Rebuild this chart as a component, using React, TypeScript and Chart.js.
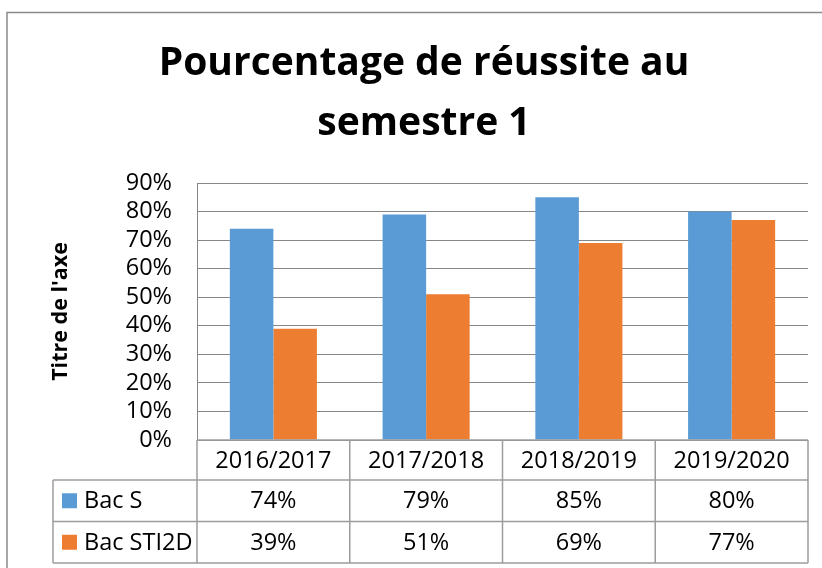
import React, { useEffect, useRef } from "react";
import { Chart, registerables } from "chart.js";

Chart.register(...registerables);

const categories = ["2016/2017", "2017/2018", "2018/2019", "2019/2020"];
const bacS = [74, 79, 85, 80];
const bacSTI2D = [39, 51, 69, 77];
const seriesNames = ["Bac S", "Bac STI2D"];
const seriesColors = ["#5B9BD5", "#ED7D31"];
const titleLines = ["Pourcentage de réussite au", "semestre 1"];
const axisTitle = "Titre de l'axe";
const yMin = 0;
const yMax = 90;
const yStep = 10;

const FONT = "'Open Sans', 'Liberation Sans', sans-serif";
const GRID = "#878787";
const TABLE_LINE = "#9c9c9c";

const frameAndTablePlugin = {
  id: "frameAndTable",
  beforeDraw(chart: any) {
    const { ctx, width, height } = chart;
    ctx.save();
    ctx.fillStyle = "#ffffff";
    ctx.fillRect(0, 0, width, height);
    ctx.strokeStyle = "#8a8a8a";
    ctx.lineWidth = 1.5;
    ctx.beginPath();
    ctx.moveTo(7, height + 2);
    ctx.lineTo(7, 12.5);
    ctx.lineTo(width + 2, 12.5);
    ctx.stroke();
    ctx.restore();
  },
  afterDraw(chart: any) {
    const { ctx, chartArea, scales } = chart;
    const xs = scales.x;
    const n = categories.length;
    const cw = chartArea.width / n;
    const top = chartArea.bottom;
    const rowH = [40, 41.5, 41.5];
    const y1 = top + rowH[0];
    const y2 = y1 + rowH[1];
    const y3 = y2 + rowH[2];
    const legendLeft = chartArea.left - 144;
    const line = (ax: number, ay: number, bx: number, by: number) => {
      ctx.beginPath();
      ctx.moveTo(ax, ay);
      ctx.lineTo(bx, by);
      ctx.stroke();
    };
    ctx.save();
    ctx.strokeStyle = TABLE_LINE;
    ctx.lineWidth = 1.5;
    line(chartArea.left, top, chartArea.right, top);
    [y1, y2, y3].forEach((yy) => line(legendLeft, yy, chartArea.right, yy));
    for (let i = 0; i <= n; i++) {
      const xx = chartArea.left + i * cw;
      line(xx, top, xx, y3);
    }
    line(legendLeft, y1, legendLeft, y3);

    ctx.fillStyle = "#000";
    ctx.font = `23.5px ${FONT}`;
    ctx.textAlign = "center";
    ctx.textBaseline = "middle";
    categories.forEach((c, i) => {
      ctx.fillText(c, xs.getPixelForValue(i), top + rowH[0] / 2 + 1);
    });
    const rowsData = [bacS, bacSTI2D];
    const rowCenters = [y1 + rowH[1] / 2, y2 + rowH[2] / 2];
    rowsData.forEach((vals, r) => {
      const cy = rowCenters[r];
      ctx.fillStyle = seriesColors[r];
      ctx.fillRect(legendLeft + 9, cy - 7.5, 15, 15);
      ctx.fillStyle = "#000";
      ctx.textAlign = "left";
      ctx.fillText(seriesNames[r], legendLeft + 31, cy + 1);
      ctx.textAlign = "center";
      vals.forEach((v, i) => {
        ctx.fillText(`${v}%`, xs.getPixelForValue(i), cy + 1);
      });
    });
    ctx.restore();
  },
};

export default function App() {
  const ref = useRef<HTMLCanvasElement | null>(null);
  useEffect(() => {
    if (!ref.current) return;
    const chart = new Chart(ref.current, {
      type: "bar",
      data: {
        labels: categories,
        datasets: [
          { label: seriesNames[0], data: bacS, backgroundColor: seriesColors[0] },
          { label: seriesNames[1], data: bacSTI2D, backgroundColor: seriesColors[1] },
        ],
      },
      options: {
        animation: false,
        responsive: false,
        devicePixelRatio: 1,
        layout: { padding: { top: 0, left: 40, right: 14, bottom: 128 } },
        datasets: { bar: { categoryPercentage: 0.57, barPercentage: 1 } },
        plugins: {
          legend: { display: false },
          tooltip: { enabled: false },
          title: {
            display: true,
            text: titleLines,
            color: "#000",
            font: { family: FONT, size: 39, weight: "bold", lineHeight: 60 / 39 },
            padding: { top: 34, bottom: 29 },
          },
        },
        scales: {
          x: { display: false },
          y: {
            min: yMin,
            max: yMax,
            ticks: {
              stepSize: yStep,
              autoSkip: false,
              color: "#000",
              padding: 25,
              font: { family: FONT, size: 23.5 },
              callback: (v: any) => `${v}%`,
            },
            grid: { color: GRID, lineWidth: 1, drawTicks: false },
            border: { color: GRID, width: 1 },
            title: {
              display: true,
              text: axisTitle,
              color: "#000",
              font: { family: FONT, size: 21.5, weight: "bold" },
              padding: { top: 8, bottom: 0 },
            },
            afterFit: (s: any) => {
              s.width = 157;
            },
          },
        },
      } as any,
      plugins: [frameAndTablePlugin],
    });
    return () => chart.destroy();
  }, []);
  return (
    <div style={{ position: "absolute", left: 0, top: 0, width: 822, height: 568 }}>
      <canvas ref={ref} width={822} height={568} />
    </div>
  );
}
